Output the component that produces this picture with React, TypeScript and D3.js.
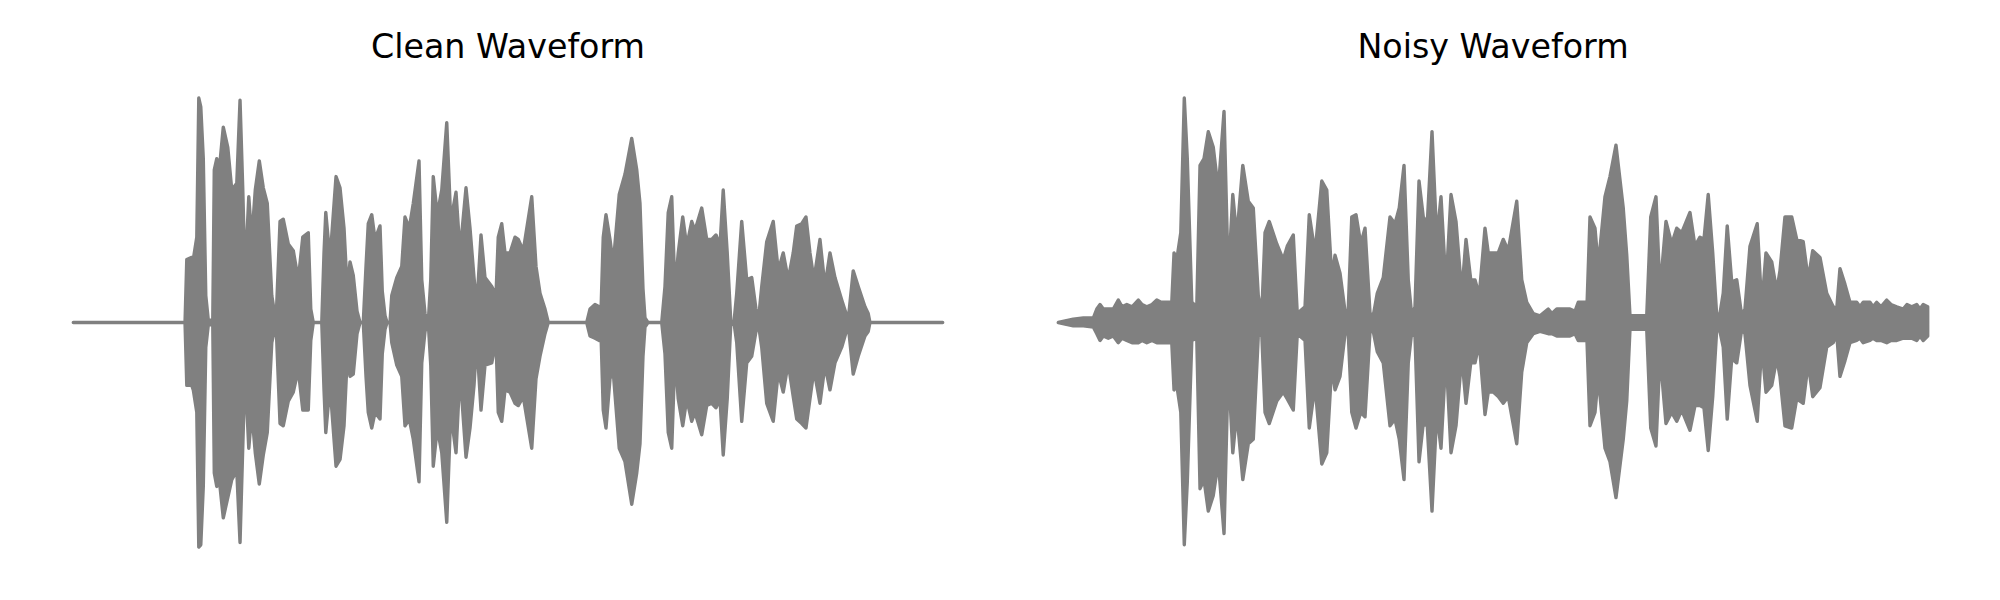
import * as d3 from "d3";

// Figure size
const WIDTH = 2000;
const HEIGHT = 600;
// Horizontal placement of each panel's waveform
const PANELS = [
  { left: 73.3, title: "Clean Waveform" },
  { left: 1058.3, title: "Noisy Waveform" },
];
const PANEL_WIDTH = 869.4;
// Clip length in seconds
const DURATION = 3.478;
const WAVE_COLOR = "#808080";

// Peak envelope of the clean signal: [time (s), upper peak, lower peak]
const cleanEnvelope: [number, number, number][] = [
  [0, 0, 0], [0.447, 0, 0], [0.454, 0.28, -0.28], [0.474, 0.29, -0.28], [0.48, 0.28, -0.3],
  [0.494, 0.38, -0.4], [0.502, 1.0, -1.0], [0.51, 0.96, -0.99], [0.52, 0.73, -0.73],
  [0.53, 0.12, -0.11], [0.54, 0.01, -0.01], [0.558, 0.01, -0.01], [0.564, 0.68, -0.67],
  [0.574, 0.73, -0.73], [0.584, 0.68, -0.7], [0.6, 0.87, -0.87], [0.618, 0.78, -0.78],
  [0.634, 0.59, -0.7], [0.654, 0.62, -0.66], [0.667, 0.99, -0.98], [0.678, 0.59, -0.55],
  [0.687, 0.2, -0.21], [0.702, 0.56, -0.56], [0.714, 0.37, -0.4], [0.728, 0.59, -0.58],
  [0.744, 0.72, -0.72], [0.76, 0.6, -0.59], [0.776, 0.53, -0.49], [0.794, 0.12, -0.09],
  [0.811, 0, 0], [0.827, 0.45, -0.45], [0.84, 0.46, -0.46], [0.86, 0.35, -0.35],
  [0.88, 0.32, -0.31], [0.9, 0.19, -0.21], [0.918, 0.38, -0.39], [0.94, 0.4, -0.39],
  [0.95, 0.06, -0.08], [0.96, 0, 0], [0.994, 0, 0], [1.003, 0.31, -0.3], [1.01, 0.49, -0.49],
  [1.027, 0.28, -0.28], [1.051, 0.65, -0.64], [1.067, 0.6, -0.61], [1.083, 0.42, -0.46],
  [1.096, 0.14, -0.15], [1.107, 0.27, -0.24], [1.12, 0.21, -0.23], [1.135, 0.05, -0.05],
  [1.147, 0, 0], [1.16, 0, 0], [1.171, 0.25, -0.24], [1.18, 0.44, -0.4], [1.194, 0.48, -0.47],
  [1.207, 0.37, -0.4], [1.227, 0.43, -0.43], [1.236, 0.14, -0.14], [1.247, 0.03, -0.03],
  [1.255, 0, 0], [1.267, 0, 0], [1.274, 0.12, -0.09], [1.294, 0.2, -0.19], [1.314, 0.25, -0.24],
  [1.327, 0.47, -0.46], [1.344, 0.42, -0.43], [1.36, 0.53, -0.52], [1.383, 0.72, -0.71],
  [1.394, 0.19, -0.18], [1.407, 0.04, -0.04], [1.42, 0, 0], [1.43, 0.19, -0.19],
  [1.44, 0.65, -0.64], [1.456, 0.48, -0.47], [1.474, 0.59, -0.58], [1.494, 0.89, -0.89],
  [1.51, 0.45, -0.4], [1.531, 0.58, -0.58], [1.547, 0.31, -0.22], [1.571, 0.6, -0.6],
  [1.587, 0.42, -0.47], [1.603, 0.2, -0.28], [1.614, 0.07, -0.08], [1.631, 0.39, -0.39],
  [1.647, 0.2, -0.19], [1.674, 0.16, -0.18], [1.691, 0.12, -0.08], [1.7, 0.38, -0.4],
  [1.714, 0.44, -0.44], [1.727, 0.31, -0.3], [1.747, 0.31, -0.31], [1.767, 0.38, -0.36],
  [1.78, 0.37, -0.37], [1.8, 0.32, -0.33], [1.834, 0.56, -0.56], [1.851, 0.25, -0.25],
  [1.867, 0.13, -0.15], [1.887, 0.06, -0.05], [1.9, 0, 0], [2.054, 0, 0], [2.067, 0.06, -0.06],
  [2.087, 0.08, -0.07], [2.104, 0.07, -0.08], [2.11, 0.01, -0.01], [2.12, 0.38, -0.39],
  [2.131, 0.48, -0.47], [2.147, 0.37, -0.25], [2.16, 0.26, -0.22], [2.184, 0.57, -0.56],
  [2.207, 0.66, -0.62], [2.234, 0.82, -0.81], [2.254, 0.68, -0.67], [2.267, 0.53, -0.54],
  [2.279, 0.15, -0.15], [2.287, 0.02, -0.02], [2.299, 0, 0], [2.354, 0, 0], [2.367, 0.16, -0.14],
  [2.38, 0.49, -0.49], [2.394, 0.56, -0.56], [2.407, 0.14, -0.14], [2.42, 0.31, -0.34],
  [2.438, 0.47, -0.46], [2.454, 0.34, -0.34], [2.474, 0.45, -0.44], [2.487, 0.41, -0.4],
  [2.514, 0.51, -0.5], [2.534, 0.37, -0.37], [2.554, 0.37, -0.36], [2.571, 0.39, -0.38],
  [2.587, 0.34, -0.34], [2.6, 0.59, -0.59], [2.616, 0.31, -0.34], [2.63, 0.01, -0.01],
  [2.643, 0, 0], [2.654, 0.13, -0.09], [2.674, 0.45, -0.44], [2.694, 0.19, -0.18],
  [2.714, 0.2, -0.15], [2.731, 0.06, -0.04], [2.74, 0, 0], [2.754, 0.16, -0.11],
  [2.774, 0.36, -0.36], [2.8, 0.45, -0.44], [2.82, 0.23, -0.22], [2.84, 0.31, -0.31],
  [2.86, 0.19, -0.18], [2.88, 0.31, -0.33], [2.894, 0.43, -0.43], [2.914, 0.44, -0.45],
  [2.931, 0.47, -0.47], [2.947, 0.31, -0.34], [2.963, 0.19, -0.21], [2.987, 0.37, -0.36],
  [3.007, 0.16, -0.19], [3.027, 0.31, -0.3], [3.047, 0.2, -0.18], [3.074, 0.1, -0.11],
  [3.1, 0.01, -0.01], [3.12, 0.23, -0.23], [3.14, 0.16, -0.15], [3.167, 0.07, -0.06],
  [3.18, 0.04, -0.04], [3.187, 0, 0], [3.478, 0, 0],
];

// Peak envelope of the noisy signal: [time (s), upper peak, lower peak]
const noisyEnvelope: [number, number, number][] = [
  [0, 0, 0], [0.06, 0.015, -0.015], [0.1, 0.02, -0.015], [0.14, 0.02, -0.02], [0.154, 0.06, -0.05],
  [0.167, 0.08, -0.08], [0.18, 0.06, -0.06], [0.2, 0.06, -0.07], [0.22, 0.06, -0.06],
  [0.24, 0.1, -0.09], [0.255, 0.07, -0.07], [0.274, 0.08, -0.08], [0.295, 0.07, -0.09],
  [0.32, 0.1, -0.09], [0.335, 0.08, -0.08], [0.354, 0.07, -0.09], [0.375, 0.08, -0.08],
  [0.394, 0.1, -0.09], [0.411, 0.09, -0.09], [0.434, 0.09, -0.09], [0.454, 0.09, -0.09],
  [0.463, 0.31, -0.3], [0.474, 0.28, -0.28], [0.49, 0.4, -0.4], [0.504, 1.0, -0.99],
  [0.516, 0.73, -0.71], [0.534, 0.09, -0.08], [0.554, 0.07, -0.07], [0.567, 0.7, -0.74],
  [0.583, 0.73, -0.7], [0.6, 0.85, -0.84], [0.62, 0.78, -0.77], [0.64, 0.59, -0.62],
  [0.663, 0.94, -0.94], [0.68, 0.19, -0.19], [0.698, 0.57, -0.58], [0.714, 0.38, -0.4],
  [0.738, 0.7, -0.7], [0.76, 0.54, -0.54], [0.78, 0.51, -0.52], [0.8, 0.12, -0.06],
  [0.814, 0.04, -0.05], [0.827, 0.4, -0.4], [0.844, 0.45, -0.45], [0.874, 0.35, -0.35],
  [0.9, 0.28, -0.31], [0.916, 0.34, -0.34], [0.94, 0.39, -0.39], [0.956, 0.04, -0.05],
  [0.987, 0.07, -0.08], [1.004, 0.48, -0.47], [1.027, 0.31, -0.28], [1.054, 0.63, -0.63],
  [1.074, 0.59, -0.58], [1.094, 0.2, -0.19], [1.107, 0.3, -0.3], [1.127, 0.22, -0.24],
  [1.147, 0.05, -0.05], [1.16, 0.06, -0.05], [1.174, 0.47, -0.4], [1.191, 0.48, -0.47],
  [1.21, 0.35, -0.4], [1.227, 0.42, -0.42], [1.247, 0.04, -0.04], [1.26, 0.03, -0.04],
  [1.276, 0.13, -0.13], [1.3, 0.2, -0.18], [1.327, 0.47, -0.46], [1.347, 0.44, -0.43],
  [1.364, 0.51, -0.52], [1.383, 0.7, -0.7], [1.4, 0.19, -0.18], [1.414, 0.03, -0.04],
  [1.427, 0.07, -0.06], [1.443, 0.63, -0.62], [1.46, 0.47, -0.45], [1.476, 0.44, -0.46],
  [1.495, 0.85, -0.84], [1.514, 0.37, -0.4], [1.531, 0.56, -0.56], [1.551, 0.16, -0.14],
  [1.571, 0.57, -0.58], [1.591, 0.45, -0.46], [1.614, 0.13, -0.15], [1.631, 0.37, -0.36],
  [1.65, 0.19, -0.18], [1.667, 0.19, -0.18], [1.684, 0.12, -0.09], [1.707, 0.42, -0.41],
  [1.72, 0.31, -0.31], [1.74, 0.31, -0.31], [1.76, 0.31, -0.33], [1.78, 0.37, -0.36],
  [1.8, 0.32, -0.33], [1.834, 0.54, -0.54], [1.854, 0.19, -0.22], [1.874, 0.09, -0.09],
  [1.9, 0.04, -0.05], [1.927, 0.03, -0.04], [1.96, 0.06, -0.05], [1.975, 0.04, -0.05],
  [1.994, 0.06, -0.06], [2.02, 0.06, -0.06], [2.047, 0.06, -0.06], [2.067, 0.05, -0.05],
  [2.08, 0.09, -0.08], [2.107, 0.09, -0.08], [2.114, 0.04, -0.05], [2.127, 0.47, -0.46],
  [2.147, 0.42, -0.4], [2.16, 0.25, -0.24], [2.187, 0.56, -0.56], [2.207, 0.65, -0.62],
  [2.231, 0.79, -0.78], [2.26, 0.51, -0.52], [2.274, 0.3, -0.35], [2.287, 0.03, -0.03],
  [2.354, 0.03, -0.03], [2.37, 0.47, -0.47], [2.391, 0.56, -0.55], [2.407, 0.14, -0.14],
  [2.431, 0.45, -0.45], [2.454, 0.35, -0.4], [2.474, 0.42, -0.44], [2.494, 0.4, -0.39],
  [2.527, 0.49, -0.48], [2.547, 0.34, -0.37], [2.567, 0.38, -0.37], [2.583, 0.37, -0.38],
  [2.6, 0.57, -0.57], [2.618, 0.31, -0.33], [2.634, 0.03, -0.03], [2.647, 0.04, -0.04],
  [2.66, 0.13, -0.11], [2.676, 0.43, -0.43], [2.694, 0.18, -0.16], [2.714, 0.19, -0.18],
  [2.734, 0.03, -0.03], [2.747, 0.06, -0.05], [2.767, 0.34, -0.28], [2.796, 0.44, -0.44],
  [2.814, 0.07, -0.1], [2.831, 0.31, -0.31], [2.854, 0.27, -0.28], [2.874, 0.14, -0.16],
  [2.887, 0.23, -0.24], [2.907, 0.47, -0.46], [2.934, 0.47, -0.47], [2.954, 0.37, -0.34],
  [2.98, 0.36, -0.36], [3.0, 0.19, -0.18], [3.018, 0.32, -0.33], [3.047, 0.29, -0.29],
  [3.074, 0.13, -0.11], [3.1, 0.07, -0.09], [3.114, 0.06, -0.05], [3.127, 0.24, -0.24],
  [3.147, 0.17, -0.17], [3.167, 0.09, -0.09], [3.194, 0.09, -0.08], [3.207, 0.07, -0.07],
  [3.22, 0.09, -0.09], [3.247, 0.09, -0.08], [3.259, 0.07, -0.07], [3.274, 0.09, -0.08],
  [3.291, 0.07, -0.08], [3.314, 0.1, -0.09], [3.331, 0.08, -0.08], [3.354, 0.07, -0.08],
  [3.38, 0.06, -0.07], [3.395, 0.08, -0.07], [3.414, 0.07, -0.07], [3.434, 0.08, -0.08],
  [3.447, 0.06, -0.06], [3.46, 0.08, -0.08], [3.478, 0.07, -0.06],
];

const ENVELOPES = [cleanEnvelope, noisyEnvelope];

type WaveformProps = {
  data: [number, number, number][];
  left: number;
  title: string;
};

const Waveform = ({ data, left, title }: WaveformProps) => {
  const xScale = d3.scaleLinear().domain([0, DURATION]).range([left, left + PANEL_WIDTH]);
  const yScale = d3.scaleLinear().domain([-1, 1]).range([547, 98]);

  const area = d3
    .area<[number, number, number]>()
    .x((d) => xScale(d[0]))
    .y0((d) => yScale(d[2]))
    .y1((d) => yScale(d[1]));

  return (
    <g>
      <text
        x={left + PANEL_WIDTH / 2}
        y={58}
        textAnchor="middle"
        fontSize={33.3}
        fontFamily="DejaVu Sans"
        fill="#000"
      >
        {title}
      </text>
      <path
        d={area(data) || undefined}
        fill={WAVE_COLOR}
        stroke={WAVE_COLOR}
        strokeWidth={3.4}
        strokeLinejoin="round"
        strokeLinecap="round"
      />
    </g>
  );
};

export default function App() {
  return (
    <svg
      width={WIDTH}
      height={HEIGHT}
      style={{ position: "absolute", left: 0, top: 0, background: "#fff" }}
    >
      {PANELS.map((p, i) => (
        <Waveform key={p.title} data={ENVELOPES[i]} left={p.left} title={p.title} />
      ))}
    </svg>
  );
}
